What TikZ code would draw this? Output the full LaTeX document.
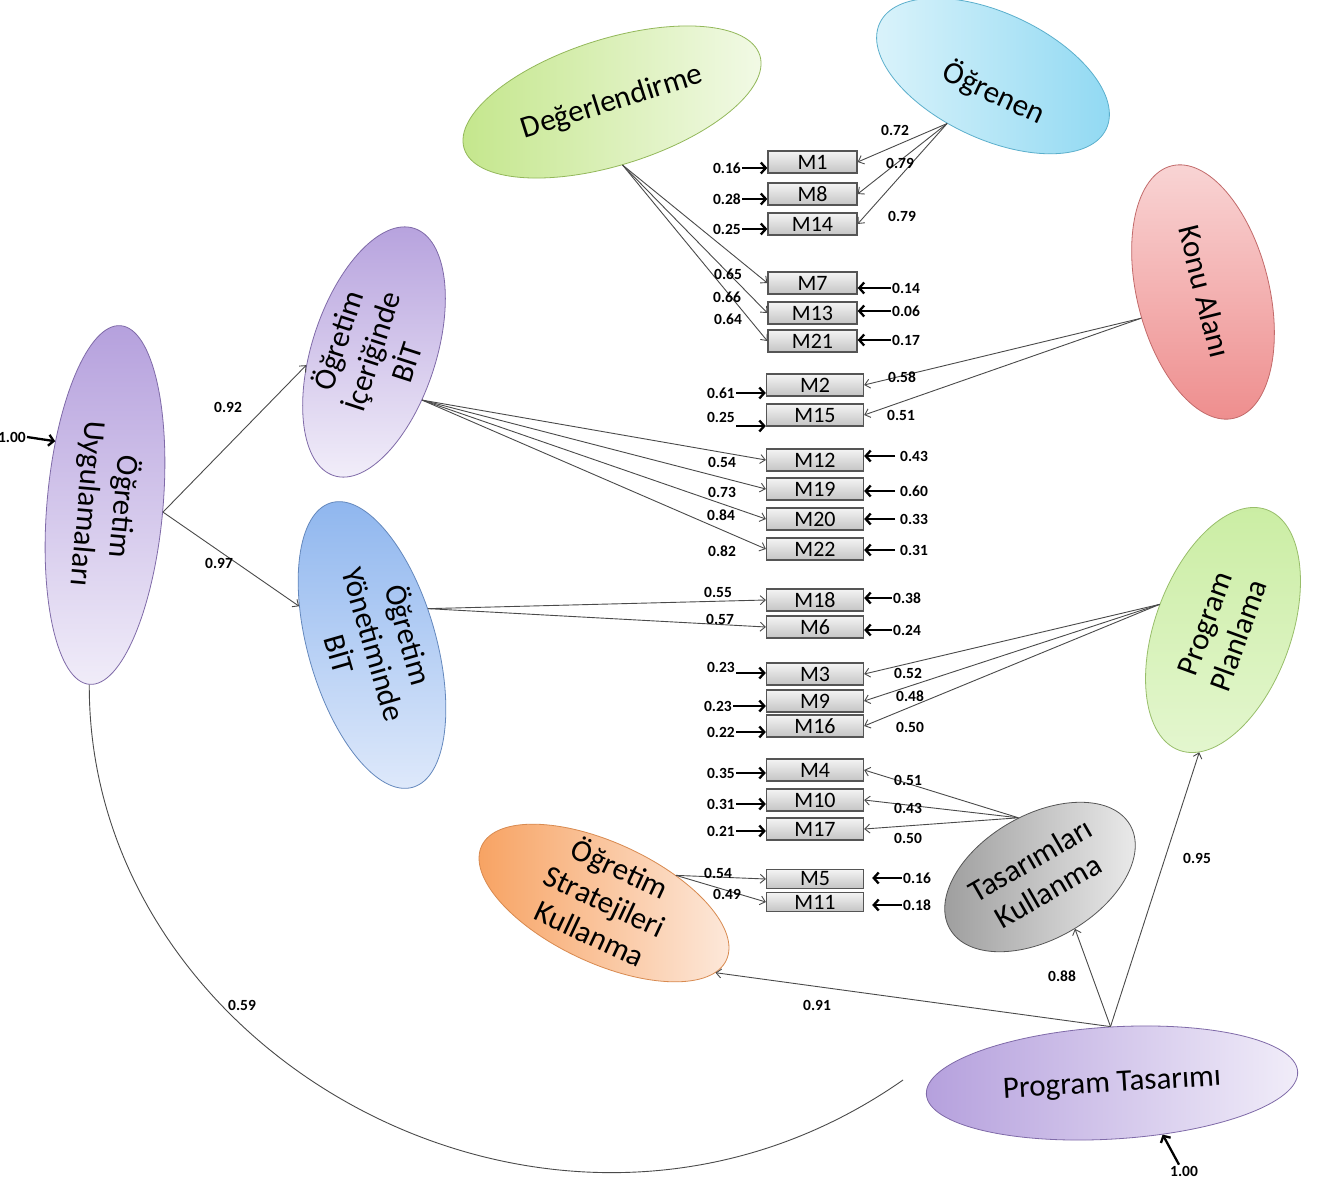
\documentclass[tikz,border=0pt]{standalone}
\usepackage{fontspec}
\setmainfont{Carlito}
\usetikzlibrary{shapes.geometric,arrows.meta}

% fills of the latent variables
\definecolor{degA}{HTML}{C3E68A}\definecolor{degB}{HTML}{F3FAE8}\definecolor{degL}{HTML}{93B85A}
\definecolor{ogrA}{HTML}{DDF4FB}\definecolor{ogrB}{HTML}{8ED8F2}\definecolor{ogrL}{HTML}{5BAFCC}
\definecolor{konA}{HTML}{F9D6D6}\definecolor{konB}{HTML}{EE8C8C}\definecolor{konL}{HTML}{C26A6A}
\definecolor{purA}{HTML}{B5A0DD}\definecolor{purB}{HTML}{F1EDF9}\definecolor{purL}{HTML}{7F6AA8}
\definecolor{bluA}{HTML}{8DB5EE}\definecolor{bluB}{HTML}{E0EAFB}\definecolor{bluL}{HTML}{6488BD}
\definecolor{plaA}{HTML}{E3F6CE}\definecolor{plaB}{HTML}{CAEDA2}\definecolor{plaL}{HTML}{98BE6A}
\definecolor{tasA}{HTML}{9A9A9A}\definecolor{tasB}{HTML}{EEEEEE}\definecolor{tasL}{HTML}{555555}
\definecolor{strA}{HTML}{F7A05E}\definecolor{strB}{HTML}{FDEBDF}\definecolor{strL}{HTML}{D88A50}
% indicator boxes and lines
\definecolor{boxTop}{HTML}{F4F4F4}\definecolor{boxBot}{HTML}{C4C4C4}\definecolor{boxLine}{HTML}{555555}
\definecolor{lineGray}{HTML}{4A4A4A}

% centred multi-line text of zero size, so the ellipse keeps its own size
\newcommand\lattext[3]{\smash{\makebox[0pt]{\kern#1pt\raisebox{#2pt}{\raisebox{-0.25em}{\begin{tabular}{@{}c@{}}#3\end{tabular}}}}}}

\begin{document}
\begin{tikzpicture}[x=1pt,y=-1pt,
  lat/.style 2 args={ellipse, inner sep=0pt, minimum width=#1, minimum height=#2,
    line width=0.8pt, font=\fontsize{31}{36}\selectfont},
  mbox/.style={rectangle, inner sep=0pt, minimum width=89pt, minimum height=22pt,
    top color=boxTop, bottom color=boxBot, draw=boxLine, line width=1.3pt,
    font=\fontsize{22}{24}\selectfont},
  mboxw/.style={mbox, minimum width=97pt},
  num/.style={inner sep=1pt, font=\bfseries\fontsize{15.5}{17}\selectfont},
  load/.style={draw=lineGray, line width=0.9pt, -{Straight Barb[length=5pt,width=9pt]}},
  err/.style={draw=black, line width=2.3pt, -{Straight Barb[length=5pt,width=11pt]}},
  cov/.style={draw=lineGray, line width=0.9pt},
]
\fill[white] (0,0) rectangle (1317,1177);
\useasboundingbox (0,0) rectangle (1317,1177);

% ---------- latent variables ----------
\node[lat={310pt}{126pt}, rotate=17.5, left color=degA, right color=degB, draw=degL]
  (lDeg) at (612,102) {\lattext{0}{0}{Değerlendirme}};
\node[lat={250pt}{126pt}, rotate=-25, left color=ogrA, right color=ogrB, draw=ogrL]
  (lOgr) at (993,76) {\lattext{16}{-16}{Öğrenen}};
\node[lat={260pt}{132pt}, rotate=-76, top color=konA, bottom color=konB, draw=konL]
  (lKon) at (1203,292) {\lattext{0}{0}{Konu Alanı}};
\node[lat={260pt}{124pt}, rotate=72, top color=purA, bottom color=purB, draw=purL]
  (lIcr) at (374,352) {\lattext{0}{0}{Öğretim\\İçeriğinde\\BİT}};
\node[lat={360pt}{116pt}, rotate=-95, top color=purA, bottom color=purB, draw=purL]
  (lUyg) at (105,505) {\lattext{0}{0}{Öğretim\\Uygulamaları}};
\node[lat={296pt}{128pt}, rotate=-74, top color=bluA, bottom color=bluB, draw=bluL]
  (lYon) at (372,645) {\lattext{0}{0}{Öğretim\\Yönetiminde\\BİT}};
\node[lat={256pt}{136pt}, rotate=70, top color=plaB, bottom color=plaA, draw=plaL]
  (lPla) at (1223,630) {\lattext{0}{0}{Program\\Planlama}};
\node[lat={208pt}{124pt}, rotate=30, left color=tasA, right color=tasB, draw=tasL]
  (lTas) at (1040,877) {\lattext{0}{0}{Tasarımları\\Kullanma}};
\node[lat={270pt}{120pt}, rotate=-25, left color=strA, right color=strB, draw=strL]
  (lStr) at (604,903) {\lattext{0}{0}{Öğretim\\Stratejileri\\Kullanma}};
\node[lat={372pt}{112pt}, rotate=3.5, left color=purA, right color=purB, draw=purL]
  (lPts) at (1112,1083) {\lattext{0}{0}{Program Tasarımı}};

% ---------- indicators ----------
\node[mbox] (M1)  at (812.5,162) {M1};
\node[mbox] (M8)  at (812.5,194) {M8};
\node[mbox] (M14) at (812.5,224) {M14};
\node[mbox] (M7)  at (812.5,283) {M7};
\node[mbox] (M13) at (812.5,313) {M13};
\node[mbox] (M21) at (812.5,341) {M21};
\node[mboxw] (M2)  at (815,385) {M2};
\node[mboxw] (M15) at (815,415) {M15};
\node[mboxw] (M12) at (815,460) {M12};
\node[mboxw] (M19) at (815,489) {M19};
\node[mboxw] (M20) at (815,519) {M20};
\node[mboxw] (M22) at (815,549) {M22};
\node[mboxw] (M18) at (815,600) {M18};
\node[mboxw] (M6)  at (815,627) {M6};
\node[mboxw] (M3)  at (815,674) {M3};
\node[mboxw] (M9)  at (815,701) {M9};
\node[mboxw] (M16) at (815,726) {M16};
\node[mboxw] (M4)  at (815,770) {M4};
\node[mboxw] (M10) at (815,800) {M10};
\node[mboxw] (M17) at (815,829) {M17};
\node[mboxw, minimum height=19pt] (M5)  at (815,879) {M5};
\node[mboxw, minimum height=19pt] (M11) at (815,902) {M11};

% ---------- loadings ----------
\foreach \m in {M1,M8,M14} \draw[load] (lOgr.-109) -- (\m.east);
\foreach \m in {M7,M13,M21} \draw[load] (lDeg.-98) -- (\m.west);
\foreach \m in {M2,M15} \draw[load] (lKon.-81) -- (\m.east);
\foreach \m in {M12,M19,M20,M22} \draw[load] (lIcr.-117) -- (\m.west);
\foreach \m in {M18,M6} \draw[load] (lYon.107) -- (\m.west);
\foreach \m in {M3,M9,M16} \draw[load] (lPla.88) -- (\m.east);
\foreach \m in {M4,M10,M17} \draw[load] (lTas.80) -- (\m.east);
\foreach \m in {M5,M11} \draw[load] (lStr.46) -- (\m.west);

\node[num] (w1)  at (895,130) {0.72};
\node[num] (w8)  at (900,163) {0.79};
\node[num] (w14) at (902,216) {0.79};
\node[num] (w7)  at (728,274) {0.65};
\node[num] (w13) at (727,297) {0.66};
\node[num] (w21) at (728,319) {0.64};
\node[num] (w2)  at (902,377) {0.58};
\node[num] (w15) at (901,415) {0.51};
\node[num] (w12) at (722,462) {0.54};
\node[num] (w19) at (722,492) {0.73};
\node[num] (w20) at (721,515) {0.84};
\node[num] (w22) at (722,551) {0.82};
\node[num] (w18) at (718,592) {0.55};
\node[num] (w6)  at (720,619) {0.57};
\node[num] (w3)  at (908,673) {0.52};
\node[num] (w9)  at (910,696) {0.48};
\node[num] (w16) at (910,727) {0.50};
\node[num] (w4)  at (908,780) {0.51};
\node[num] (w10) at (908,808) {0.43};
\node[num] (w17) at (908,838) {0.50};
\node[num] (w5)  at (718,873) {0.54};
\node[num] (w11) at (727,894) {0.49};

% ---------- structural paths ----------
\draw[load] (lUyg.88) -- (lIcr.119);
\draw[load] (lUyg.88) -- (lYon.-134);
\draw[load] (lPts.88) -- (lStr.-7);
\draw[load] (lPts.88) -- (lTas.-86);
\draw[load] (lPts.88) -- (lPla.-171);
\node[num] (sIcr) at (228,407) {0.92};
\node[num] (sYon) at (219,563) {0.97};
\node[num] (sStr) at (817,1005) {0.91};
\node[num] (sTas) at (1062,976) {0.88};
\node[num] (sPla) at (1197,858) {0.95};

% covariance between the two exogenous factors
\coordinate (covEnd) at (903,1080);
\draw[cov] (lUyg.0) .. controls (88,1060) and (560,1320) .. (covEnd);
\node[num] (sCov) at (242,1005) {0.59};

% ---------- error terms, left side ----------
\node[num, anchor=east] (e1)  at (742,168) {0.16};
\node[num, anchor=east] (e8)  at (742,199) {0.28};
\node[num, anchor=east] (e14) at (742,229) {0.25};
\node[num, anchor=east] (e2)  at (736,393) {0.61};
\node[num, anchor=east] (e15) at (736,417) {0.25};
\node[num, anchor=east] (e3)  at (736,667) {0.23};
\node[num, anchor=east] (e9)  at (733,706) {0.23};
\node[num, anchor=east] (e16) at (736,732) {0.22};
\node[num, anchor=east] (e4)  at (736,773) {0.35};
\node[num, anchor=east] (e10) at (736,804) {0.31};
\node[num, anchor=east] (e17) at (736,831) {0.21};
\foreach \e/\m in {e1/M1,e8/M8,e14/M14,e2/M2,e9/M9,e16/M16,e4/M4,e10/M10,e17/M17}
  \draw[err] (\e.east) -- (\e.east -| \m.west);
\draw[err] ([yshift=-9pt]e15.east) -- ([yshift=-9pt]e15.east -| M15.west);
\draw[err] ([yshift=-6pt]e3.east) -- ([yshift=-6pt]e3.east -| M3.west);

% ---------- error terms, right side ----------
\node[num, anchor=west] (e7)  at (891,288) {0.14};
\node[num, anchor=west] (e13) at (891,311) {0.06};
\node[num, anchor=west] (e21) at (891,340) {0.17};
\node[num, anchor=west, inner xsep=5pt] (e12) at (895,456) {0.43};
\node[num, anchor=west, inner xsep=5pt] (e19) at (895,491) {0.60};
\node[num, anchor=west, inner xsep=5pt] (e20) at (895,519) {0.33};
\node[num, anchor=west, inner xsep=5pt] (e22) at (895,550) {0.31};
\node[num, anchor=west] (e18) at (892,598) {0.38};
\node[num, anchor=west] (e6)  at (892,630) {0.24};
\node[num, anchor=west] (e5)  at (902,878) {0.16};
\node[num, anchor=west] (e11) at (902,905) {0.18};
\foreach \e/\m in {e7/M7,e13/M13,e21/M21,e12/M12,e19/M19,e20/M20,e22/M22,e18/M18,e6/M6}
  \draw[err] (\e.west) -- (\e.west -| \m.east);
\foreach \e/\m in {e5/M5,e11/M11}
  \draw[err, shorten >=8pt] (\e.west) -- (\e.west -| \m.east);

% ---------- disturbances of the exogenous factors ----------
\node[num, anchor=east] (eU) at (27,437) {1.00};
\draw[err] (eU.east) -- (lUyg.-137);
\node[num] (eP) at (1184,1171) {1.00};
\draw[err] ([xshift=-5pt]eP.north) -- (lPts.-49);
\end{tikzpicture}
\end{document}
